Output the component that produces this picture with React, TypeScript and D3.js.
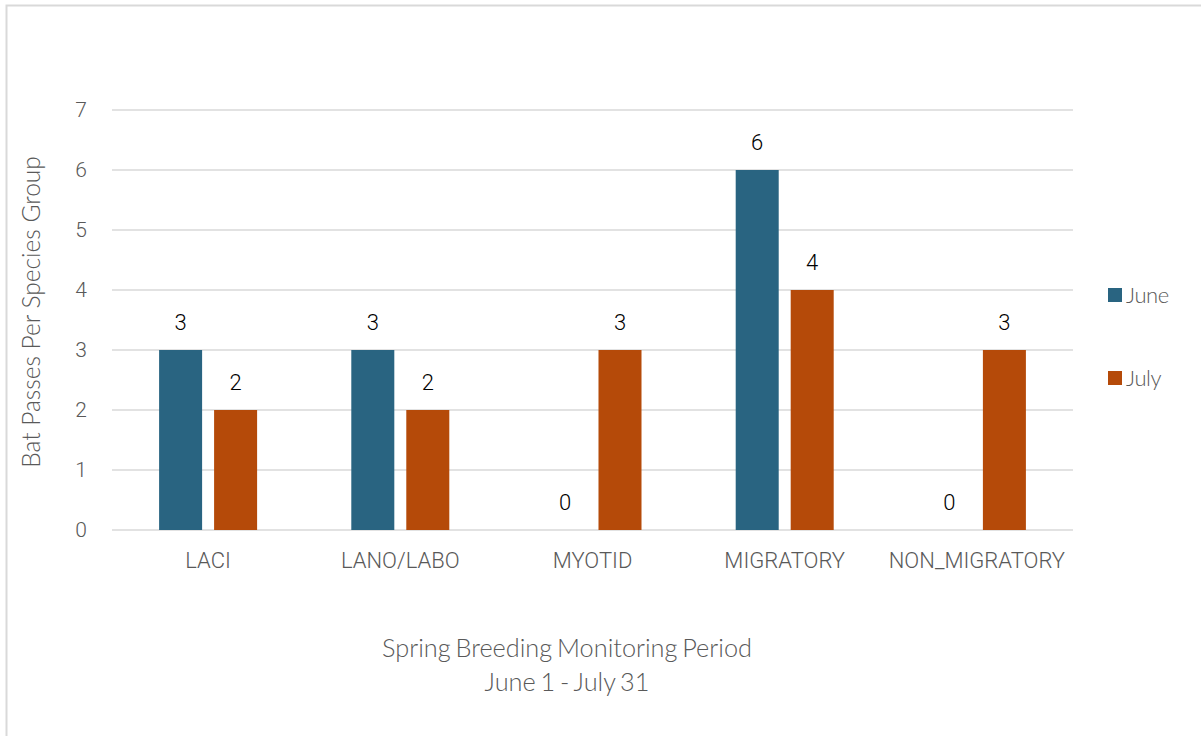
import React from 'react'
import * as d3 from 'd3'

const categories = ['LACI', 'LANO/LABO', 'MYOTID', 'MIGRATORY', 'NON_MIGRATORY']
const june = [3, 3, 0, 6, 0]
const july = [2, 2, 3, 4, 3]
const seriesNames = ['June', 'July']
const colors = ['#296481', '#B54A09']
const yTicks = [0, 1, 2, 3, 4, 5, 6, 7]

export default function App() {
  const width = 1201
  const height = 736
  const margin = { top: 110, right: 128, bottom: 206, left: 112 }

  const x = d3.scaleBand()
    .domain(categories)
    .range([margin.left, width - margin.right])

  const xInner = d3.scaleBand()
    .domain(seriesNames)
    .range([0, 98])
    .paddingInner(0.218)

  const y = d3.scaleLinear()
    .domain([0, 7])
    .range([height - margin.bottom, margin.top])

  const series = [june, july]
  const font = 'Lato, "Open Sans", sans-serif'

  return (
    <svg width={width} height={height} style={{ position: 'absolute', left: 0, top: 0, background: '#fff' }}>
      <rect x={6.5} y={5.5} width={1300} height={800} fill="#fff" stroke="#d9d9d9" strokeWidth={2} />

      {/* gridlines */}
      {yTicks.map(t => (
        <line key={t} x1={margin.left} x2={width - margin.right} y1={y(t)} y2={y(t)}
          stroke="#d9d9d9" strokeWidth={1.5} />
      ))}
      {yTicks.map(t => (
        <text key={'t' + t} x={87} y={y(t)} dy="0.35em" textAnchor="end"
          fontFamily="Roboto, sans-serif" fontWeight={300} fontSize={21} fill="#595959">{t}</text>
      ))}

      {/* bars */}
      {categories.map((c, i) => {
        const x0 = x(c)! + (x.bandwidth() - 98) / 2
        return (
          <g key={c}>
            {series.map((s, j) => {
              const bx = x0 + xInner(seriesNames[j])!
              const v = s[i]
              return (
                <g key={j}>
                  {v > 0 && (
                    <rect x={bx} y={y(v)} width={xInner.bandwidth()} height={y(0) - y(v)} fill={colors[j]} />
                  )}
                  <text x={bx + xInner.bandwidth() / 2} y={y(v) - 28} dy="0.35em" textAnchor="middle"
                    fontFamily="Roboto, sans-serif" fontWeight={300} fontSize={22} fill="#000">{v}</text>
                </g>
              )
            })}
            <text x={x(c)! + x.bandwidth() / 2} y={560} dy="0.35em" textAnchor="middle"
              fontFamily="Roboto, sans-serif" fontWeight={300} fontSize={22} fill="#595959">{c}</text>
          </g>
        )
      })}

      {/* axis titles */}
      <text transform="translate(31,312) rotate(-90)" dy="0.35em" textAnchor="middle"
        fontFamily={font} fontWeight={300} fontSize={24.5} fill="#595959">Bat Passes Per Species Group</text>
      <text x={567} y={648} dy="0.35em" textAnchor="middle" fontFamily={font} fontWeight={300} fontSize={25.3}
        fill="#595959" wordSpacing={-2}>Spring Breeding Monitoring Period</text>
      <text x={567} y={682} dy="0.35em" textAnchor="middle" fontFamily={font} fontWeight={300} fontSize={25.3}
        fill="#595959" wordSpacing={-2}>June 1 - July 31</text>

      {/* legend */}
      {seriesNames.map((n, j) => (
        <g key={n} transform={`translate(1108, ${295 + j * 83})`}>
          <rect x={0} y={-7} width={14} height={14} fill={colors[j]} />
          <text x={18} y={0} dy="0.35em" fontFamily={font} fontWeight={300} fontSize={22} fill="#595959"
            letterSpacing={-0.4}>{n}</text>
        </g>
      ))}
    </svg>
  )
}
